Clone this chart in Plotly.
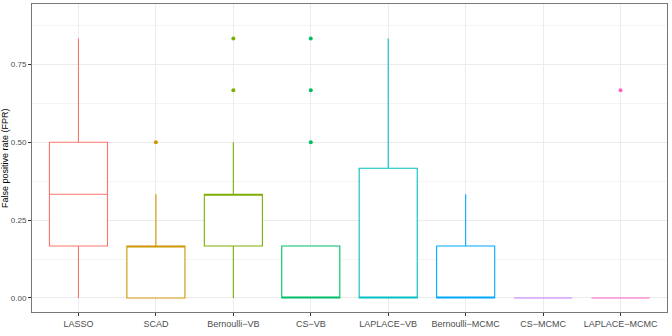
import plotly.graph_objects as go

# dados (estatísticas das caixas)
metodos = ['LASSO', 'SCAD', 'Bernoulli\u2212VB', 'CS\u2212VB', 'LAPLACE\u2212VB',
           'Bernoulli\u2212MCMC', 'CS\u2212MCMC', 'LAPLACE\u2212MCMC']
cores = ['#F8766D', '#CD9600', '#7CAE00', '#00BE67', '#00BFC4', '#00A9FF', '#C77CFF', '#FF61CC']

minimo = [0.0, 0.0, 0.0, 0.0, 0.0, 0.0, 0.0, 0.0]
q1 = [0.1667, 0.0, 0.1667, 0.0, 0.0, 0.0, 0.0, 0.0]
mediana = [0.3333, 0.1667, 0.3333, 0.0, 0.0, 0.0, 0.0, 0.0]
q3 = [0.5, 0.1667, 0.3333, 0.1667, 0.4167, 0.1667, 0.0, 0.0]
maximo = [0.8333, 0.3333, 0.5, 0.1667, 0.8333, 0.3333, 0.0, 0.0]

outliers = [[], [0.5], [0.6667, 0.8333], [0.5, 0.6667, 0.8333], [], [], [], [0.6667]]

ticks_y = [0, 0.25, 0.5, 0.75]
rotulos_y = ['0.00', '0.25', '0.50', '0.75']

fig = go.Figure()
for i, nome in enumerate(metodos):
    fig.add_trace(go.Box(
        x=[nome],
        q1=[q1[i]],
        median=[mediana[i]],
        q3=[q3[i]],
        lowerfence=[minimo[i]],
        upperfence=[maximo[i]],
        line=dict(color=cores[i], width=1.1),
        fillcolor='white',
        whiskerwidth=0,
        boxpoints=False,
        showlegend=False,
        hoverinfo='skip',
    ))
    if outliers[i]:
        fig.add_trace(go.Scatter(
            x=[nome] * len(outliers[i]),
            y=outliers[i],
            mode='markers',
            marker=dict(color=cores[i], size=4),
            showlegend=False,
            hoverinfo='skip',
        ))

fig.update_layout(
    width=672,
    height=336,
    margin=dict(l=32, r=5, t=4, b=24),
    plot_bgcolor='white',
    paper_bgcolor='white',
    boxmode='overlay',
    boxgap=0.25,
    boxgroupgap=0,
    font=dict(family='Liberation Sans, Arial, sans-serif', size=9, color='#4D4D4D'),
    xaxis=dict(
        categoryorder='array',
        categoryarray=metodos,
        range=[-0.6, 7.6],
        automargin=False,
        showgrid=True,
        gridcolor='#EBEBEB',
        gridwidth=1,
        ticks='outside',
        ticklen=3,
        tickcolor='#333333',
        showline=True,
        linecolor='#777777',
        mirror=True,
        zeroline=False,
        tickfont=dict(size=9, color='#4D4D4D'),
    ),
    yaxis=dict(
        range=[-0.045, 0.944],
        automargin=False,
        tickvals=ticks_y,
        ticktext=rotulos_y,
        showgrid=True,
        gridcolor='#EBEBEB',
        gridwidth=1,
        minor=dict(dtick=0.125, tick0=0.125, showgrid=True, gridcolor='#F4F4F4', gridwidth=1),
        ticks='outside',
        ticklen=3,
        tickcolor='#333333',
        showline=True,
        linecolor='#777777',
        mirror=True,
        zeroline=False,
        tickfont=dict(size=8, color='#4D4D4D'),
    ),
    annotations=[dict(
        text='False positive rate (FPR)',
        xref='paper', yref='paper',
        x=-0.0425, y=0.5,
        xanchor='center', yanchor='middle',
        textangle=-90,
        showarrow=False,
        font=dict(size=9, color='black'),
    )],
)

fig.write_html(
    "out.html",
    config={'displayModeBar': False, 'staticPlot': True},
    post_script="document.body.style.margin='0px';document.body.style.overflow='hidden';",
)
